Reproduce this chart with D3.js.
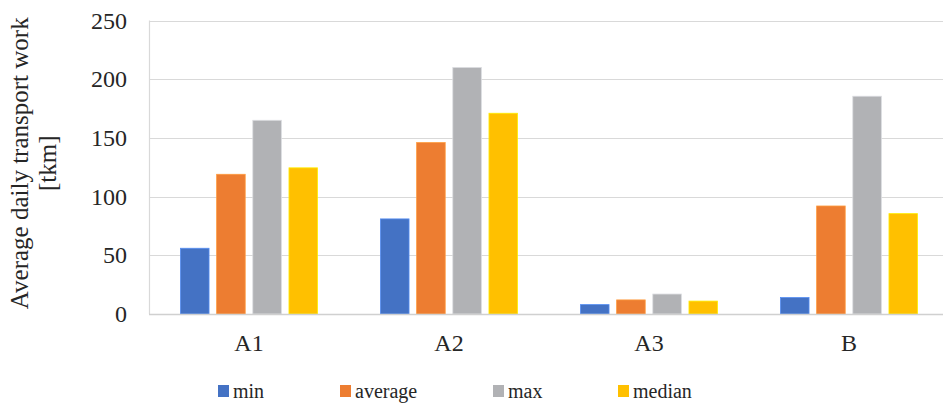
<!DOCTYPE html>
<html>
<head>
<meta charset="utf-8">
<script src="https://cdn.jsdelivr.net/npm/d3@7"></script>
<style>
  html, body { margin: 0; padding: 0; background: #fff; }
  svg { display: block; }
</style>
</head>
<body>
<svg id="chart" width="943" height="404"></svg>
<script>
// Average daily transport work per vehicle group
const categories = ["A1", "A2", "A3", "B"];
const seriesNames = ["min", "average", "max", "median"];
const seriesColors = ["#4472C4", "#ED7D31", "#B1B2B5", "#FFC000"];
const minValues = [56, 81, 8, 14];
const averageValues = [119, 146, 12, 92];
const maxValues = [165, 210, 17, 185.5];
const medianValues = [124.5, 171, 11, 85.5];
const yTicks = [0, 50, 100, 150, 200, 250];

const seriesValues = [minValues, averageValues, maxValues, medianValues];
const SERIF = '"Liberation Serif", "Times New Roman", serif';
const INK = "#262626";

const svg = d3.select("#chart");
const W = 943, H = 404;
const plot = { left: 149, right: 949, top: 20.5, bottom: 314 };

const x = d3.scaleBand().domain(categories).range([plot.left, plot.right]).padding(0);
const xs = d3.scaleBand().domain(seriesNames).range([0, x.bandwidth()])
  .paddingInner(0.21).paddingOuter(0.87);
const y = d3.scaleLinear().domain([0, 250]).range([plot.bottom, plot.top]);

// horizontal gridlines
svg.append("g").selectAll("line").data(yTicks.filter(t => t > 0)).join("line")
  .attr("x1", plot.left).attr("x2", W)
  .attr("y1", d => Math.round(y(d)) + 0.5).attr("y2", d => Math.round(y(d)) + 0.5)
  .attr("stroke", "#D9D9D9").attr("stroke-width", 1.2);

// left border of the plot area
svg.append("line")
  .attr("x1", plot.left + 0.5).attr("x2", plot.left + 0.5)
  .attr("y1", y(250)).attr("y2", plot.bottom)
  .attr("stroke", "#D9D9D9").attr("stroke-width", 1.2);

// bars
const groups = svg.append("g").selectAll("g").data(categories).join("g")
  .attr("transform", d => `translate(${x(d)},0)`);
groups.selectAll("rect")
  .data((c, ci) => seriesNames.map((s, si) => ({ s, si, v: seriesValues[si][ci] })))
  .join("rect")
  .attr("x", d => xs(d.s))
  .attr("width", xs.bandwidth())
  .attr("y", d => y(d.v))
  .attr("height", d => y(0) - y(d.v))
  .attr("fill", d => seriesColors[d.si])
  .attr("stroke", d => d3.color(seriesColors[d.si]).brighter(0.6))
  .attr("stroke-width", 0.8);

// category axis line
svg.append("line")
  .attr("x1", plot.left).attr("x2", W)
  .attr("y1", plot.bottom + 0.5).attr("y2", plot.bottom + 0.5)
  .attr("stroke", "#D0D0D0").attr("stroke-width", 1.6);

// y axis labels
const yAxis = d3.axisLeft(y).tickValues(yTicks).tickSize(0).tickPadding(22);
const gy = svg.append("g").attr("transform", `translate(${plot.left},0)`).call(yAxis)
  .attr("font-family", SERIF).attr("font-size", 24);
gy.select(".domain").remove();
gy.selectAll("text").attr("fill", INK);

// x axis labels
const xAxis = d3.axisBottom(x).tickSize(0).tickPadding(20);
const gx = svg.append("g").attr("transform", `translate(0,${plot.bottom})`).call(xAxis)
  .attr("font-family", SERIF).attr("font-size", 24);
gx.select(".domain").remove();
gx.selectAll("text").attr("fill", INK);

// y axis title
const title = svg.append("text")
  .attr("transform", `translate(28,${(plot.top + plot.bottom) / 2 - 4}) rotate(-90)`)
  .attr("text-anchor", "middle")
  .attr("font-family", SERIF).attr("font-size", 25).attr("fill", INK);
title.append("tspan").attr("x", 0).attr("dy", 0).text("Average daily transport work");
title.append("tspan").attr("x", 0).attr("dy", 28).text("[tkm]");

// legend
const legendX = [218, 340, 493, 618];
const legend = svg.append("g").selectAll("g").data(seriesNames).join("g")
  .attr("transform", (d, i) => `translate(${legendX[i]},385)`);
legend.append("rect").attr("width", 11).attr("height", 12)
  .attr("fill", (d, i) => seriesColors[i]);
legend.append("text").attr("x", 15).attr("y", 13)
  .attr("font-family", SERIF).attr("font-size", 20).attr("fill", INK)
  .text(d => d);
</script>
</body>
</html>
